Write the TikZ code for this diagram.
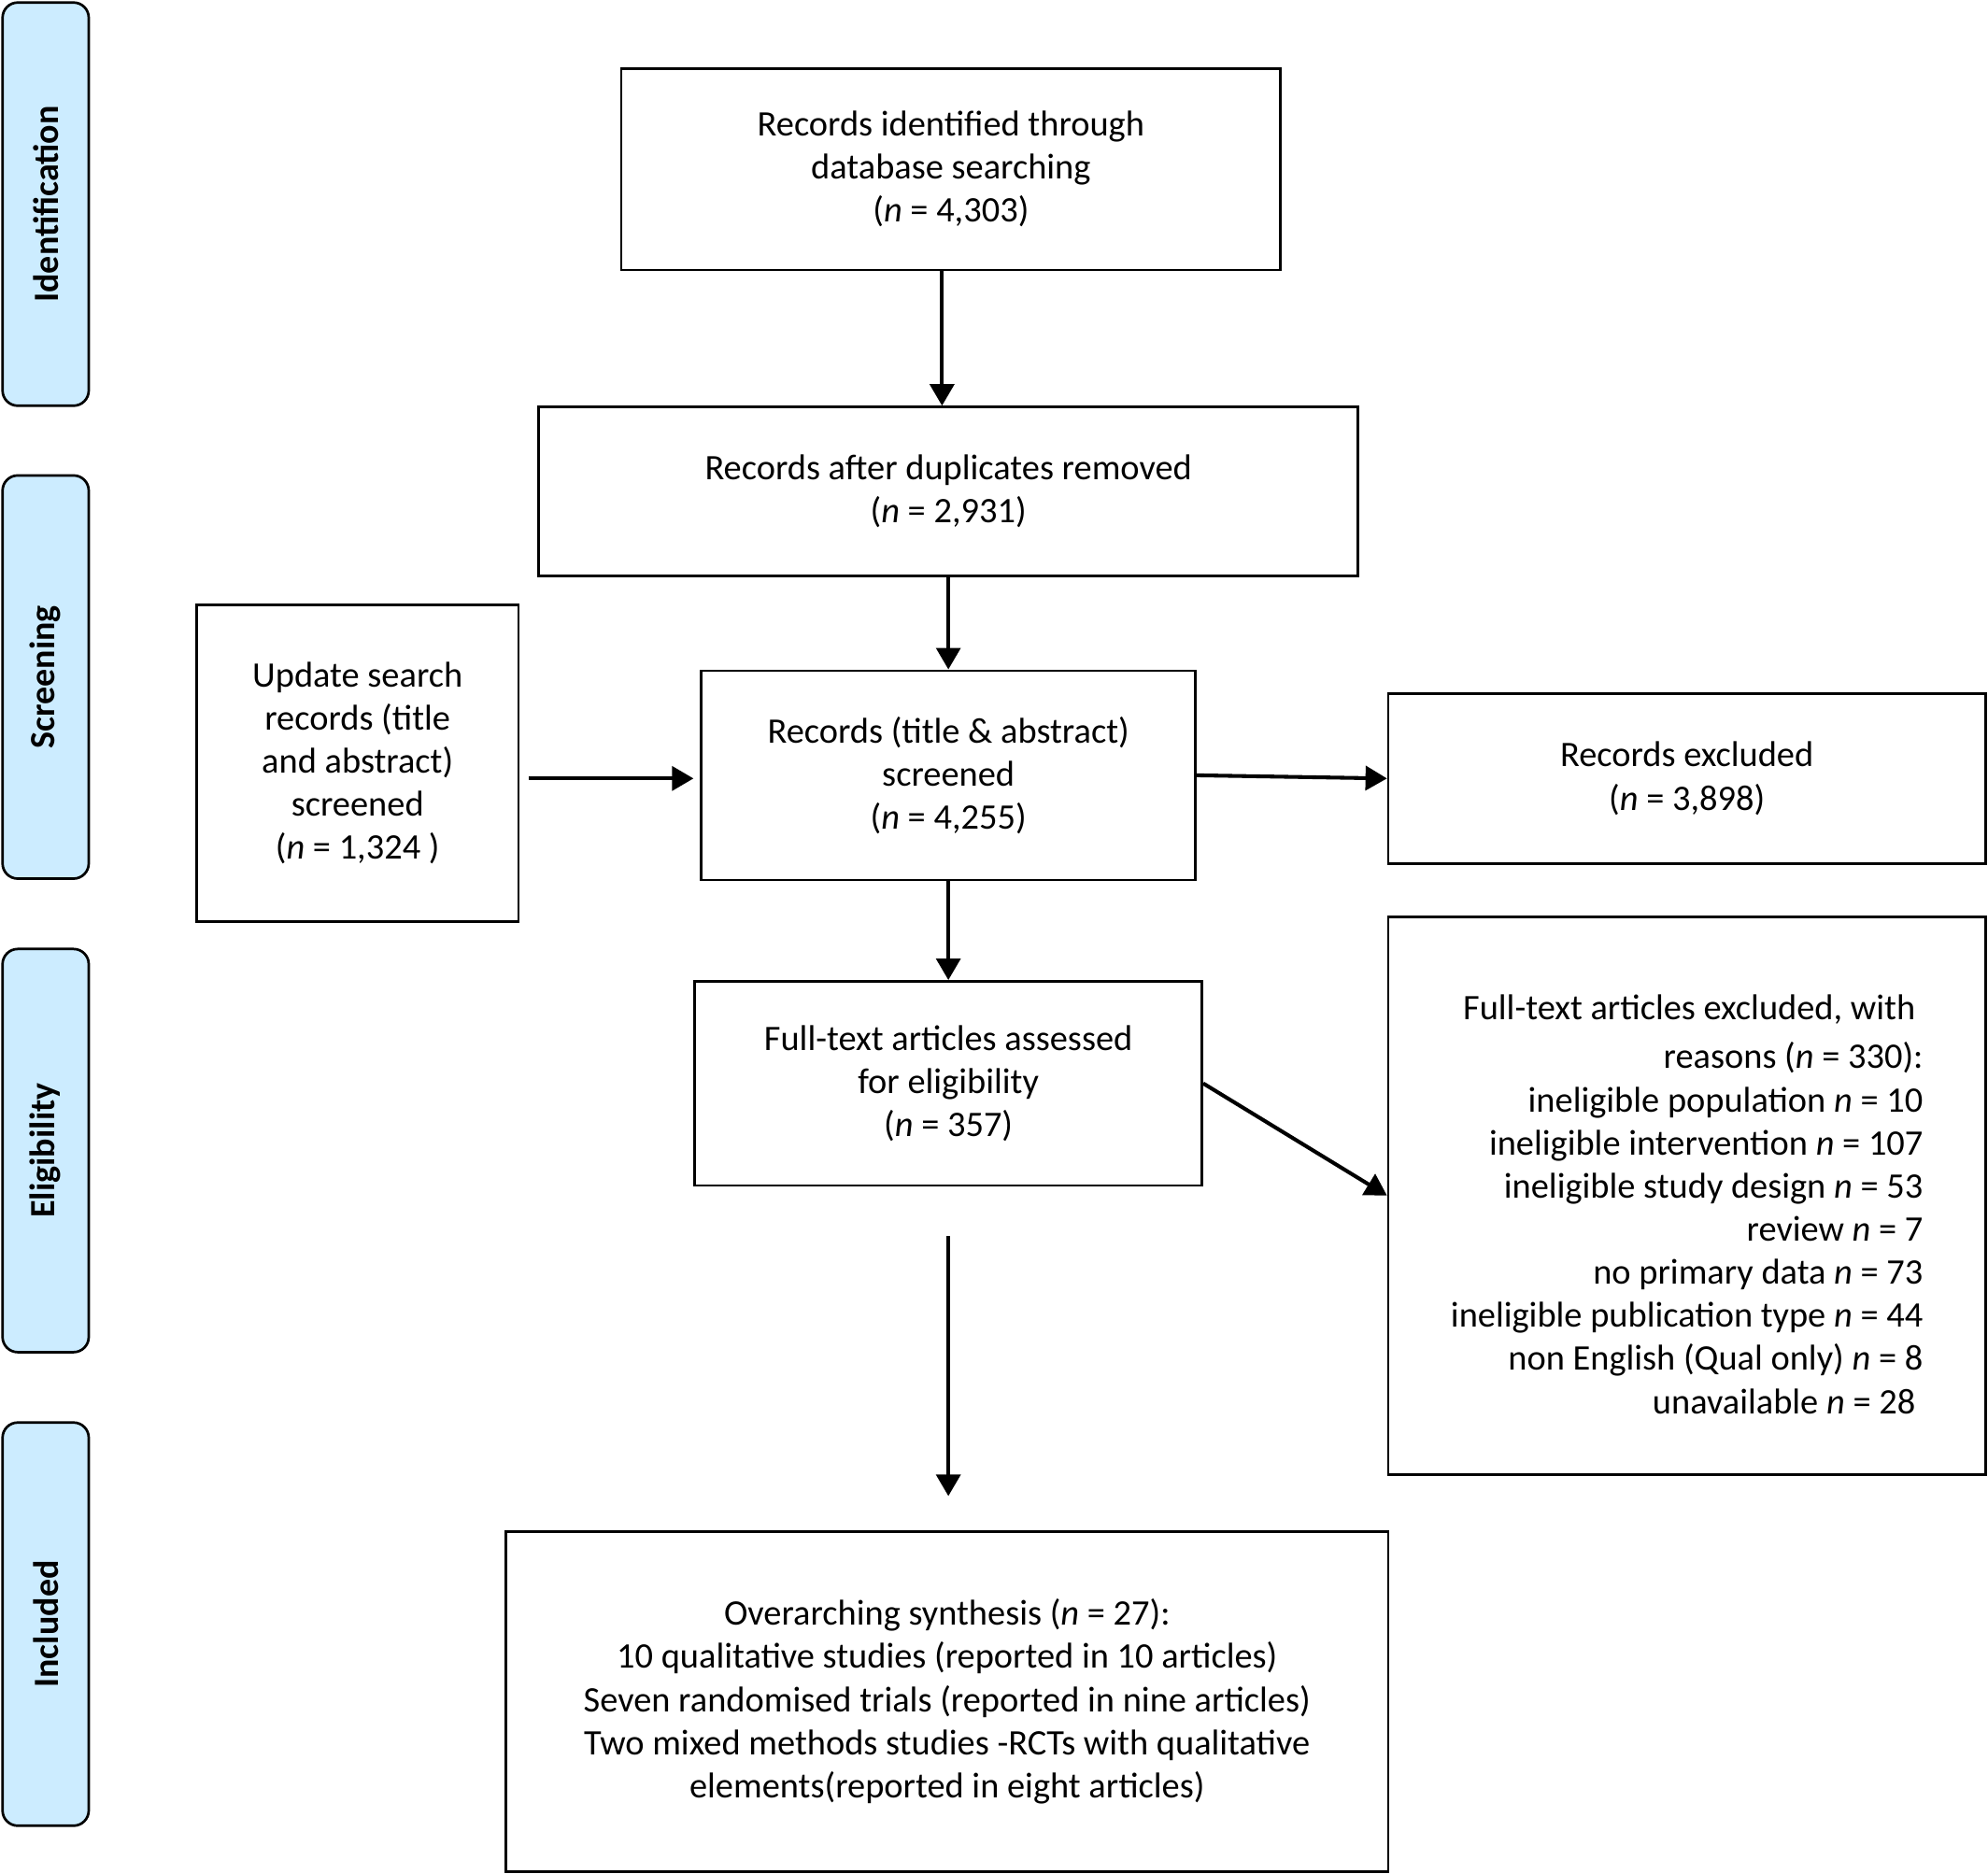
\documentclass[tikz,border=0pt]{standalone}
\usepackage{fontspec}
\setmainfont{Carlito}
\usetikzlibrary{arrows.meta,calc}
\definecolor{sideblue}{HTML}{CCECFF}
\begin{document}
\begin{tikzpicture}[x=1pt,y=-1pt,
  box/.style={draw, line width=2pt, inner sep=0pt, align=center, font=\fontsize{28.3}{34}\selectfont},
  side/.style={draw, line width=2pt, fill=sideblue, rounded corners=12pt, rotate=90,
    minimum width=318pt, minimum height=68pt, inner sep=0pt, font=\fontsize{28}{32}\selectfont\bfseries},
  arr/.style={line width=3pt, -{Triangle[length=17pt,width=19pt]}}]
\useasboundingbox (0,0) rectangle (1568,1478);
% side labels
\node[side] (sid) at (36,161) {Identification};
\node[side] (ssc) at (36,534) {Screening};
\node[side] (sel) at (36,907.5) {Eligibility};
\node[side] (sin) at (36,1281) {Included};
% boxes
\node[box, minimum width=520pt, minimum height=159pt] (A) at (750,133.5)
  {Records identified through\\database searching\\(\textit{n} = 4,303)};
\node[box, minimum width=646pt, minimum height=133pt] (B) at (748,387.5)
  {Records after duplicates removed\\(\textit{n} = 2,931)};
\node[box, minimum width=254pt, minimum height=250pt] (U) at (282,602)
  {Update search\\records (title\\and abstract)\\screened\\(\textit{n} = 1,324 )};
\node[box, minimum width=390pt, minimum height=165pt] (C) at (748,611.5)
  {Records (title \& abstract)\\screened\\(\textit{n} = 4,255)};
\node[box, minimum width=471pt, minimum height=134pt] (E1) at (1330.5,614)
  {Records excluded\\(\textit{n} = 3,898)};
\node[box, minimum width=400pt, minimum height=161pt] (D) at (748,854.5)
  {Full-text articles assessed\\for eligibility\\(\textit{n} = 357)};
\node[box, align=right, minimum width=471pt, minimum height=440pt] (E2) at (1330.5,943)
  {\rule{0pt}{33pt}Full-text articles excluded, with\hspace*{6pt}\\[5pt]
   reasons (\textit{n} = 330):\\
   ineligible population \textit{n} = 10\\
   ineligible intervention \textit{n} = 107\\
   ineligible study design \textit{n} = 53\\
   review \textit{n} = 7\\
   no primary data \textit{n} = 73\\
   ineligible publication type \textit{n} = 44\\
   non English (Qual only) \textit{n} = 8\\
   unavailable \textit{n} = 28\hspace*{6pt}};
\node[box, minimum width=696pt, minimum height=268pt] (F) at (747,1342)
  {Overarching synthesis (\textit{n} = 27):\\
   10 qualitative studies (reported in 10 articles)\\
   Seven randomised trials (reported in nine articles)\\
   Two mixed methods studies -RCTs with qualitative\\
   elements(reported in eight articles)};
% connectors
\draw[arr] ($(A.south)+(-7,0)$) -- ($(B.north)+(-5,0)$);
\draw[arr] (B.south) -- (C.north);
\draw[arr] ($(U.east)+(7,12)$) -- ($(C.west)+(-5,2.5)$);
\draw[arr] (C.east) -- (E1.west);
\draw[arr] (C.south) -- (D.north);
\draw[arr] (D.east) -- (E2.west);
\coordinate (gs) at (748,975);
\coordinate (ge) at (748,1180);
\draw[arr] (gs) -- (ge);
\end{tikzpicture}
\end{document}
